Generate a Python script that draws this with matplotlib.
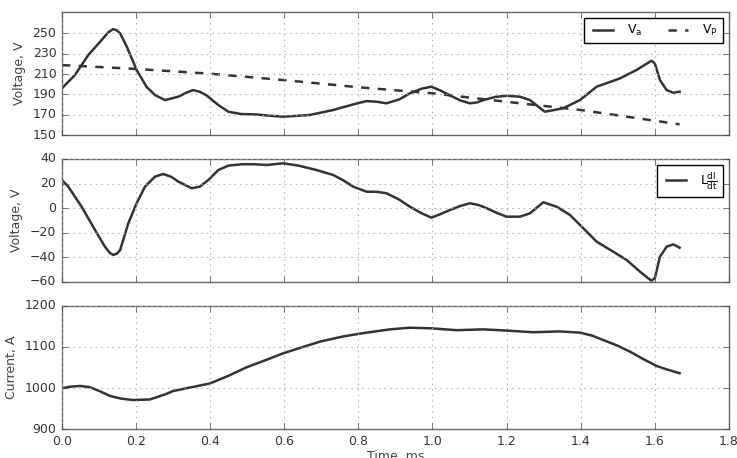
import numpy as np
import matplotlib
matplotlib.use("Agg")
import matplotlib.pyplot as plt

plt.style.use("classic")
plt.rcParams["mathtext.default"] = "regular"
plt.rcParams["font.size"] = 9

# Arc voltage
t_va = [0.0, 0.035, 0.071, 0.107, 0.125, 0.138, 0.148, 0.157, 0.175, 0.2015, 0.228,
        0.251, 0.278, 0.314, 0.335, 0.354, 0.372, 0.39, 0.422, 0.449, 0.485,
        0.521, 0.56, 0.597, 0.669, 0.732, 0.78, 0.822, 0.85, 0.876, 0.91, 0.939,
        0.97, 0.997, 1.02, 1.047, 1.075, 1.101, 1.12, 1.137, 1.17, 1.2, 1.236,
        1.263, 1.303, 1.353, 1.398, 1.443, 1.506, 1.551, 1.575, 1.591, 1.6,
        1.614, 1.632, 1.65, 1.667]
va = [196, 209, 228.7, 243.4, 251, 254.2, 253, 250, 236.8, 214, 197.5,
      189.3, 184.4, 187.7, 191.5, 194.2, 192.5, 189, 179.5, 172.9, 170.6,
      170.3, 169, 168, 169.7, 174.6, 179.5, 183.4, 182.7, 181.2, 185, 191,
      195.5, 197.5, 194, 189, 184, 181.2, 182, 184.4, 187.5, 188.6, 187.7,
      184.4, 172.9, 176.3, 184.4, 197.5, 205.7, 214, 219.5, 223, 220.5,
      204, 194.2, 191.6, 192.6]

# Supply voltage
t_vp = [0.0, 0.2, 0.4, 0.6, 0.8, 1.0, 1.2, 1.4, 1.667]
vp = [218.8, 215, 210.3, 204, 197, 191, 182.7, 174.6, 160.5]

# Inductive voltage L dI/dt
t_ldi = [0.0, 0.017, 0.053, 0.089, 0.116, 0.128, 0.138, 0.148, 0.157, 0.179, 0.2015,
         0.224, 0.251, 0.273, 0.295, 0.314, 0.35, 0.372, 0.395, 0.422, 0.449,
         0.485, 0.521, 0.552, 0.597, 0.64, 0.687, 0.732, 0.76, 0.786, 0.822,
         0.85, 0.876, 0.91, 0.939, 0.97, 0.997, 1.02, 1.047, 1.075, 1.101,
         1.125, 1.146, 1.175, 1.2, 1.236, 1.263, 1.299, 1.335, 1.371, 1.407,
         1.443, 1.488, 1.524, 1.56, 1.58, 1.591, 1.6, 1.614, 1.632, 1.65, 1.667]
ldi = [22.9, 17.5, 1.2, -17.7, -31.3, -36, -38, -37, -34, -12.3, 4,
       17.5, 25.6, 27.8, 25.5, 21.6, 16.2, 17.5, 22.9, 31, 34.6,
       35.7, 35.7, 35.1, 36.5, 34.5, 31, 27, 22.5, 17.5, 13.4,
       13.3, 12.1, 7, 1.2, -4, -7.7, -5, -1.5, 1.8, 4,
       2.5, 0, -4, -6.9, -6.9, -4.2, 4.8, 1.2, -5.5, -16.3,
       -27.2, -35.4, -42.1, -51.6, -56.5, -58.9, -57, -39.4, -31.3, -29.4, -32.1]

# Arc current
t_cur = [0.0, 0.02, 0.0486, 0.075, 0.1, 0.13, 0.16, 0.192, 0.237, 0.28, 0.3,
         0.35, 0.399, 0.45, 0.498, 0.55, 0.597, 0.65, 0.696, 0.76, 0.822,
         0.885, 0.939, 0.997, 1.065, 1.137, 1.2, 1.272, 1.344, 1.398, 1.43,
         1.461, 1.5, 1.533, 1.57, 1.605, 1.63, 1.667]
cur = [999, 1003, 1005, 1002, 993, 980.5, 974, 970.7, 972, 985, 992.7,
       1002, 1011, 1030, 1050.5, 1068, 1084.6, 1100, 1113, 1126, 1135,
       1143, 1147, 1145.5, 1141, 1143, 1140, 1136, 1138, 1135, 1128,
       1117, 1103, 1088.6, 1070, 1053.7, 1046, 1036]

line_color = "#333333"
fig = plt.figure(figsize=(7.37, 4.58), dpi=100, facecolor="white")
axes = [fig.add_axes([0.0841, 0.7052, 0.9049, 0.2686]),
        fig.add_axes([0.0841, 0.3843, 0.9049, 0.2686]),
        fig.add_axes([0.0841, 0.0633, 0.9049, 0.2686])]

ax1, ax2, ax3 = axes
ax1.plot(t_va, va, color=line_color, lw=1.8, label=r"$V_a$")
ax1.plot(t_vp, vp, color=line_color, lw=1.8, ls="--", label=r"$V_P$")
ax1.set_ylim(150, 271)
ax1.set_yticks(np.arange(150, 251, 20))
ax1.set_ylabel("Voltage, V")
ax1.legend(loc="upper right", ncol=2, fontsize=9, fancybox=False,
           numpoints=2, handlelength=2.2, columnspacing=1.8)

ax2.plot(t_ldi, ldi, color=line_color, lw=1.8, label=r"$L\frac{dI}{dt}$")
ax2.set_ylim(-60, 40)
ax2.set_yticks(np.arange(-60, 41, 20))
ax2.set_ylabel("Voltage, V")
ax2.legend(loc="upper right", fontsize=9, fancybox=False, numpoints=2,
           handlelength=2.2)

ax3.plot(t_cur, cur, color=line_color, lw=1.8)
ax3.set_ylim(900, 1200)
ax3.set_yticks(np.arange(900, 1201, 100))
ax3.set_ylabel("Current, A")
ax3.set_xlabel("Time, ms", labelpad=2)

for ax in axes:
    ax.set_xlim(0, 1.8)
    ax.set_xticks(np.arange(0, 1.81, 0.2))
    ax.grid(True, color="#aaaaaa", linestyle=":", linewidth=0.8)
    ax.tick_params(labelsize=9, colors="#444444", labelcolor="#333333")
    ax.yaxis.label.set_color("#444444")
    ax.xaxis.label.set_color("#444444")
    for s in ax.spines.values():
        s.set_color("#666666")
for ax in (ax1, ax2):
    ax.tick_params(labelbottom=False)

fig.savefig("out.png", dpi=100, facecolor="white")
